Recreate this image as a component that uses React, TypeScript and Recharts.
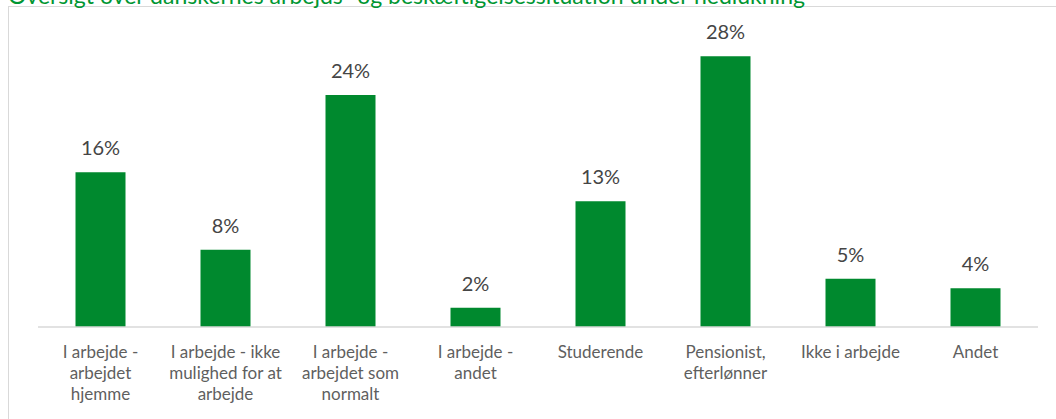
import { BarChart, Bar, XAxis, YAxis, LabelList } from "recharts";

const categories = [
  "I arbejde  -\narbejdet\nhjemme",
  "I arbejde - ikke\nmulighed for at\narbejde",
  "I arbejde -\narbejdet som\nnormalt",
  "I arbejde -\nandet",
  "Studerende",
  "Pensionist,\nefterlønner",
  "Ikke i arbejde",
  "Andet",
];
const shares = [16, 8, 24, 2, 13, 28, 5, 4];

const title = "Oversigt over danskernes arbejds- og beskæftigelsessituation under nedlukning";
const green = "#00892E";
const font = "Lato, 'Open Sans', sans-serif";

const data = categories.map((name, i) => ({ name, value: shares[i] }));

function CategoryTick(props: any) {
  const { x, y, payload } = props;
  const lines = String(payload.value).split("\n");
  return (
    <text x={x} y={y} textAnchor="middle" fill="#5f5f5f" fontSize={17} fontFamily={font}>
      {lines.map((line, i) => (
        <tspan key={i} x={x} dy={i === 0 ? 31 : 21}>
          {line}
        </tspan>
      ))}
    </text>
  );
}

export default function App() {
  return (
    <div
      style={{
        position: "absolute",
        left: 0,
        top: 0,
        width: 1056,
        height: 419,
        overflow: "hidden",
        background: "#fff",
      }}
    >
      <div
        style={{
          position: "absolute",
          left: 8,
          top: 6,
          width: 1070,
          height: 430,
          border: "1px solid #d9d9d9",
          boxSizing: "border-box",
        }}
      />
      <div
        style={{
          position: "absolute",
          left: 8,
          top: -18,
          fontFamily: font,
          fontSize: 23,
          lineHeight: "26px",
          color: "#009632",
          whiteSpace: "nowrap",
        }}
      >
        {title}
      </div>
      <div style={{ position: "absolute", left: 0, top: 0 }}>
        <BarChart
          width={1056}
          height={419}
          data={data}
          margin={{ top: 37, right: 18, bottom: 0, left: 38 }}
          barCategoryGap="30%"
        >
          <XAxis
            dataKey="name"
            interval={0}
            height={92}
            tickLine={false}
            tickSize={0}
            tickMargin={0}
            axisLine={{ stroke: "#d9d9d9", strokeWidth: 1.5 }}
            tick={<CategoryTick />}
          />
          <YAxis hide domain={[0, 30]} />
          <Bar dataKey="value" fill={green} isAnimationActive={false}>
            <LabelList
              dataKey="value"
              position="top"
              offset={17}
              formatter={(v: any) => `${v}%`}
              fill="#454545"
              fontSize={20}
              fontFamily={font}
            />
          </Bar>
        </BarChart>
      </div>
    </div>
  );
}
